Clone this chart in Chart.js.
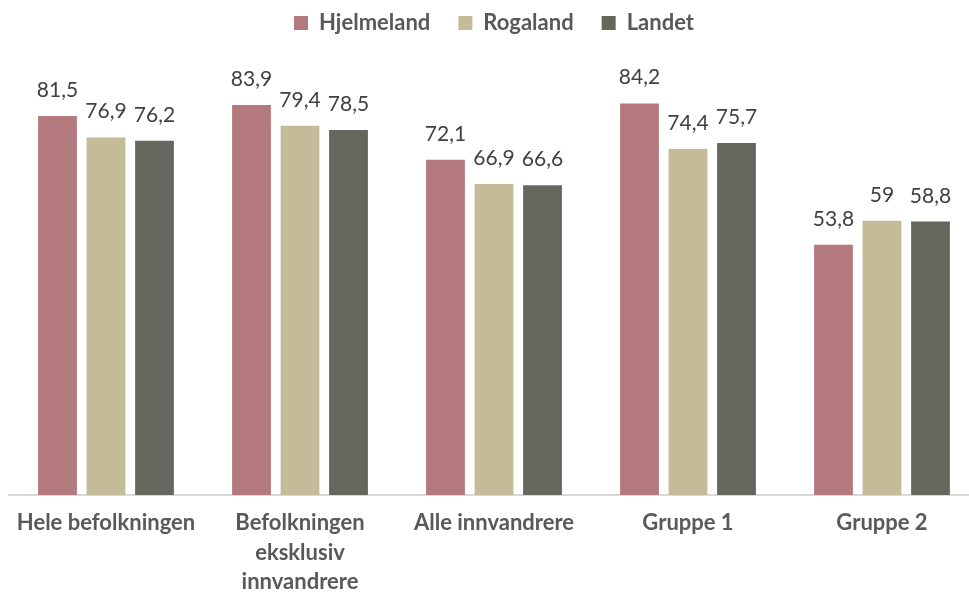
<!DOCTYPE html>
<html>
<head>
<meta charset="utf-8">
<script src="https://cdn.jsdelivr.net/npm/chart.js@4.4.0/dist/chart.umd.min.js"></script>
<style>
  body { margin: 0; background: #fff; overflow: hidden; }
  canvas { display: block; }
</style>
</head>
<body>
<canvas id="chart" width="979" height="594"></canvas>
<script>
// DATA
const categories = [
  'Hele befolkningen',
  ['Befolkningen', 'eksklusiv', 'innvandrere'],
  'Alle innvandrere',
  'Gruppe 1',
  'Gruppe 2'
];
const seriesNames = ['Hjelmeland', 'Rogaland', 'Landet'];
const hjelmeland = [81.5, 83.9, 72.1, 84.2, 53.8];
const rogaland = [76.9, 79.4, 66.9, 74.4, 59];
const landet = [76.2, 78.5, 66.6, 75.7, 58.8];

// value labels above bars, with comma decimal
const valueLabels = {
  id: 'valueLabels',
  afterDatasetsDraw(chart) {
    const ctx = chart.ctx;
    ctx.save();
    ctx.font = '21px Lato';
    ctx.fillStyle = '#404040';
    ctx.textAlign = 'center';
    ctx.textBaseline = 'alphabetic';
    chart.data.datasets.forEach((ds, i) => {
      chart.getDatasetMeta(i).data.forEach((bar, j) => {
        ctx.fillText(String(ds.data[j]).replace('.', ','), bar.x, bar.y - 19);
      });
    });
    ctx.restore();
  }
};

new Chart(document.getElementById('chart'), {
  type: 'bar',
  data: {
    labels: categories,
    datasets: [
      { label: seriesNames[0], data: hjelmeland, backgroundColor: '#B4797D' },
      { label: seriesNames[1], data: rogaland, backgroundColor: '#C4BB98' },
      { label: seriesNames[2], data: landet, backgroundColor: '#65665D' }
    ]
  },
  options: {
    responsive: false,
    animation: false,
    categoryPercentage: 0.75,
    barPercentage: 0.8,
    layout: { padding: { left: 9, right: 0, top: 0, bottom: 0 } },
    plugins: {
      legend: {
        labels: {
          boxWidth: 14,
          boxHeight: 14,
          padding: 12,
          color: '#595959',
          font: { family: 'Lato', size: 22, weight: 'bold' },
          generateLabels(chart) {
            const items = Chart.defaults.plugins.legend.labels.generateLabels(chart);
            items.forEach((it, i) => { if (i < items.length - 1) it.text += '   '; });
            return items;
          }
        }
      },
      tooltip: { enabled: false }
    },
    scales: {
      x: {
        grid: { display: false, drawTicks: false },
        border: { color: '#D9D9D9', width: 2 },
        afterFit(scale) { scale.height -= 16; },
        ticks: {
          color: '#595959',
          padding: 14,
          maxRotation: 0,
          font: { family: 'Lato', size: 22, weight: 'bold', lineHeight: 1.32 }
        }
      },
      y: {
        display: false,
        min: 0,
        max: 97
      }
    }
  },
  plugins: [valueLabels]
});
</script>
</body>
</html>
